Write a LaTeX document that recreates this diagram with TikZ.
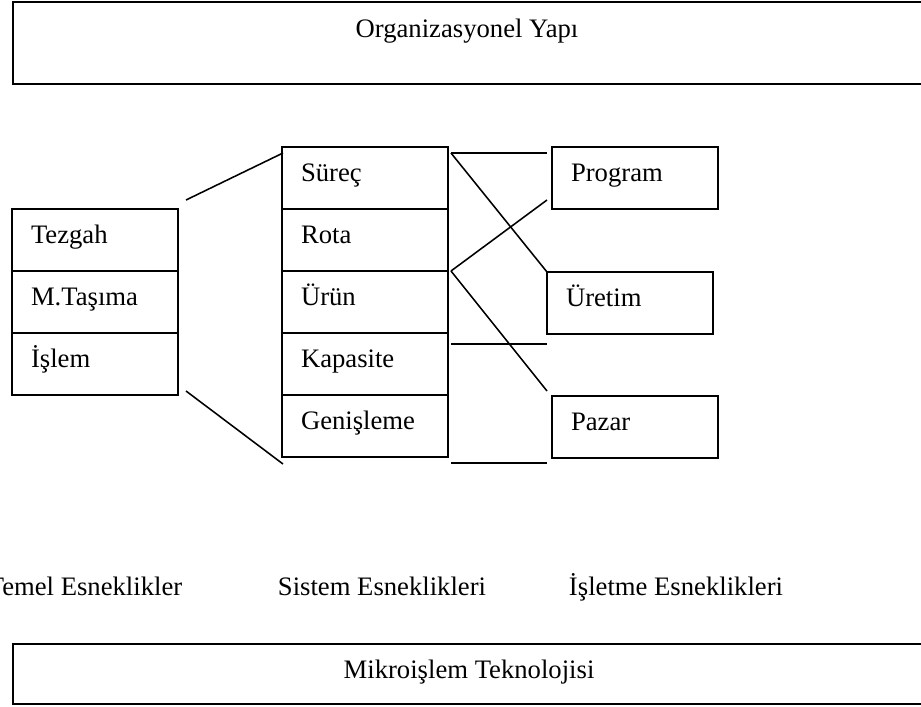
\documentclass[tikz,border=0pt]{standalone}
\usepackage{fontspec}
\setmainfont{Liberation Serif}
\usetikzlibrary{positioning, calc}

\tikzset{
  cell/.style={draw, line width=0.7pt, outer sep=0pt, anchor=north west,
    text width=57.6pt, inner xsep=8.55pt, inner ysep=0pt, minimum height=27.9pt,
    align=left, text height=7.5pt, text depth=4.8pt},
  link/.style={line width=0.7pt},
  panel/.style={line width=1pt},
}

\begin{document}
\begin{tikzpicture}[x=0.45pt, y=-0.45pt, font=\fontsize{12pt}{14pt}\selectfont]
    \useasboundingbox (0,0) rectangle (921,707);

    % Top level
    \draw[panel] (13,2) rectangle (940,84);
    \node[anchor=base] (orgtitle) at (467,37) {Organizasyonel Yapı};

    % Basic flexibilities
    \node[cell] (tezgah) at (12,209) {Tezgah};
    \node[cell, below=0pt of tezgah] (tasima) {M.Taşıma};
    \node[cell, below=0pt of tasima] (islem) {İşlem};

    % System flexibilities
    \node[cell] (surec) at (282,147) {Süreç};
    \node[cell, below=0pt of surec] (rota) {Rota};
    \node[cell, below=0pt of rota] (urun) {Ürün};
    \node[cell, below=0pt of urun] (kapasite) {Kapasite};
    \node[cell, below=0pt of kapasite] (genisleme) {Genişleme};

    % Business flexibilities
    \node[cell] (program) at (552,147) {Program};
    \node[cell] (uretim) at (547,272) {Üretim};
    \node[cell] (pazar) at (552,396) {Pazar};

    % Fan lines
    \draw[link] ($(tezgah.north east)+(8,-9)$) -- ($(surec.north west)+(1,6)$);
    \draw[link] ($(islem.south east)+(8,-4)$) -- ($(genisleme.south west)+(1,7)$);

    % Links to the right
    \draw[link] ($(surec.north east)+(3,6)$) -- ($(program.north west)+(-5,6)$);
    \draw[link] ($(surec.north east)+(3,6)$) -- (uretim.north west);
    \draw[link] ($(urun.north east)+(3,0)$) -- ($(program.south west)+(-5,-9)$);
    \draw[link] ($(urun.north east)+(3,0)$) -- ($(pazar.north west)+(-5,-5)$);
    \draw[link] ($(kapasite.north east)+(3,11)$) -- ++(96,0);
    \draw[link] ($(genisleme.south east)+(3,6)$) -- ++(96,0);

    % Column labels
    \node[anchor=base] (temel) at (85,595) {Temel Esneklikler};
    \node[anchor=base] (sistem) at (382,595) {Sistem Esneklikleri};
    \node[anchor=base] (isletme) at (676,595) {İşletme Esneklikleri};

    % Bottom level
    \draw[panel] (13,644) rectangle (940,704);
    \node[anchor=base] (mikro) at (469,678) {Mikroişlem Teknolojisi};
\end{tikzpicture}
\end{document}
